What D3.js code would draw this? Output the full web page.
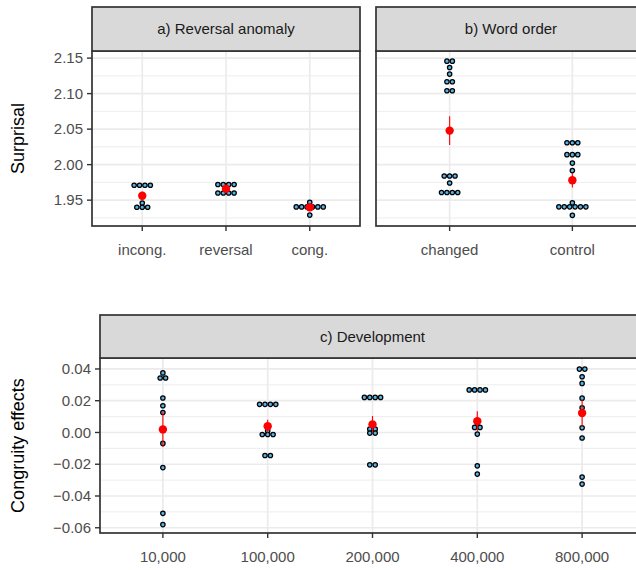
<!DOCTYPE html>
<html>
<head>
<meta charset="utf-8">
<script src="https://cdn.jsdelivr.net/npm/d3@7"></script>
<style>
  body { margin: 0; background: #fff; }
  svg { font-family: "Liberation Sans", Arial, Helvetica, sans-serif; display: block; }
</style>
</head>
<body>
<svg id="chart"></svg>
<script>
// categories
const catsA = ["incong.", "reversal", "cong."];
const catsB = ["changed", "control"];
const catsC = ["10,000", "100,000", "200,000", "400,000", "800,000"];

// surprisal values per condition
const incongVals = [1.971, 1.971, 1.971, 1.971, 1.946, 1.940, 1.940, 1.940];
const reversalVals = [1.972, 1.972, 1.972, 1.972, 1.960, 1.960, 1.960, 1.960];
const congVals = [1.947, 1.9405, 1.9405, 1.9405, 1.9405, 1.9405, 1.9405, 1.929];
const changedVals = [2.1457, 2.1457, 2.1367, 2.1275, 2.1167, 2.1167, 2.104, 2.104,
  1.984, 1.984, 1.984, 1.9742, 1.9608, 1.9608, 1.9608, 1.9608];
const controlVals = [2.0308, 2.0308, 2.0308, 2.014, 2.014, 2.014, 2.0022, 1.9916,
  1.9462, 1.9406, 1.9406, 1.9406, 1.9406, 1.9406, 1.9406, 1.9286];

// congruity effects per training size
const dev10k = [0.0375, 0.0343, 0.0343, 0.0217, 0.0168, 0.0126, -0.0069, -0.0221, -0.0509, -0.0580];
const dev100k = [0.0177, 0.0177, 0.0177, 0.0177, 0.001, -0.0013, -0.0013, -0.0013, -0.0145, -0.0145];
const dev200k = [0.0221, 0.0221, 0.0221, 0.0221, 0.0021, 0.0021, -0.0004, -0.0004, -0.0204, -0.0204];
const dev400k = [0.0268, 0.0268, 0.0268, 0.0268, 0.006, 0.0032, 0.0032, -0.001, -0.021, -0.0262];
const dev800k = [0.0399, 0.0399, 0.0351, 0.0309, 0.0216, 0.0156, 0.003, -0.0035, -0.0281, -0.0325];

// tick labels
const ticksTop = [1.95, 2.00, 2.05, 2.10, 2.15];
const minorTop = [1.925, 1.975, 2.025, 2.075, 2.125];
const ticksDev = [-0.06, -0.04, -0.02, 0.00, 0.02, 0.04];
const minorDev = [-0.05, -0.03, -0.01, 0.01, 0.03];

const width = 636, height = 570;
const svg = d3.select("#chart").attr("width", width).attr("height", height);

const dotR = 2.2, dotStep = 5.4;
const fmt2 = d3.format(".2f");

function meanSe(v) {
  const m = d3.mean(v);
  const se = d3.deviation(v) / Math.sqrt(v.length);
  return { m, lo: m - se, hi: m + se };
}

function drawPanel(opt) {
  const { x0, x1, top, bottom, stripTop, title, cats, groups, yDomain, ticks, minor, showY, yFmt } = opt;

  const x = d3.scalePoint().domain(cats).range([x0, x1]).padding(0.6);
  const y = d3.scaleLinear().domain(yDomain).range([bottom, top]);

  const g = svg.append("g");

  // grid
  g.selectAll(".minor").data(minor).enter().append("line")
      .attr("x1", x0).attr("x2", x1)
      .attr("y1", d => y(d)).attr("y2", d => y(d))
      .attr("stroke", "#ebebeb").attr("stroke-width", 0.9);
  g.selectAll(".major").data(ticks).enter().append("line")
      .attr("x1", x0).attr("x2", x1)
      .attr("y1", d => y(d)).attr("y2", d => y(d))
      .attr("stroke", "#ebebeb").attr("stroke-width", 1.7);
  g.selectAll(".vmajor").data(cats).enter().append("line")
      .attr("x1", d => x(d)).attr("x2", d => x(d))
      .attr("y1", top).attr("y2", bottom)
      .attr("stroke", "#ebebeb").attr("stroke-width", 1.7);

  // dots, stacked centred in rows of equal value
  groups.forEach((vals, i) => {
    const cx = x(cats[i]);
    const rows = d3.groups(vals, d => d);
    rows.forEach(([val, arr]) => {
      const k = arr.length;
      arr.forEach((d, j) => {
        g.append("circle")
            .attr("cx", cx + (j - (k - 1) / 2) * dotStep)
            .attr("cy", y(val))
            .attr("r", dotR)
            .attr("fill", "#56B4E9")
            .attr("stroke", "#000")
            .attr("stroke-width", 1.25);
      });
    });
  });

  // mean +- se
  groups.forEach((vals, i) => {
    const s = meanSe(vals);
    const cx = x(cats[i]);
    g.append("line")
        .attr("x1", cx).attr("x2", cx)
        .attr("y1", y(s.lo)).attr("y2", y(s.hi))
        .attr("stroke", "#ff0000").attr("stroke-width", 1.1);
    g.append("circle")
        .attr("cx", cx).attr("cy", y(s.m)).attr("r", 4.2)
        .attr("fill", "#ff0000");
  });

  // panel border
  g.append("rect")
      .attr("x", x0).attr("y", top)
      .attr("width", x1 - x0).attr("height", bottom - top)
      .attr("fill", "none").attr("stroke", "#333").attr("stroke-width", 1.7);

  // strip
  g.append("rect")
      .attr("x", x0).attr("y", stripTop)
      .attr("width", x1 - x0).attr("height", top - stripTop)
      .attr("fill", "#d9d9d9").attr("stroke", "#333").attr("stroke-width", 1.7);
  g.append("text")
      .attr("x", (x0 + x1) / 2).attr("y", (stripTop + top) / 2)
      .attr("dy", "0.35em").attr("text-anchor", "middle")
      .attr("font-size", 15).attr("fill", "#1a1a1a")
      .text(title);

  // x axis
  cats.forEach(c => {
    g.append("line")
        .attr("x1", x(c)).attr("x2", x(c))
        .attr("y1", bottom).attr("y2", bottom + 5)
        .attr("stroke", "#333").attr("stroke-width", 1.4);
    g.append("text")
        .attr("x", x(c)).attr("y", bottom + 29)
        .attr("text-anchor", "middle")
        .attr("font-size", 15).attr("fill", "#4d4d4d")
        .text(c);
  });

  // y axis
  if (showY) {
    ticks.forEach(t => {
      g.append("line")
          .attr("x1", x0 - 5).attr("x2", x0)
          .attr("y1", y(t)).attr("y2", y(t))
          .attr("stroke", "#333").attr("stroke-width", 1.4);
      g.append("text")
          .attr("x", x0 - 9).attr("y", y(t))
          .attr("dy", "0.35em").attr("text-anchor", "end")
          .attr("font-size", 15).attr("fill", "#4d4d4d")
          .text(yFmt(t));
    });
  }
  return y;
}

drawPanel({
  x0: 92, x1: 360, top: 51, bottom: 226, stripTop: 7,
  title: "a) Reversal anomaly", cats: catsA,
  groups: [incongVals, reversalVals, congVals],
  yDomain: [1.9136, 2.160], ticks: ticksTop, minor: minorTop,
  showY: true, yFmt: fmt2
});

drawPanel({
  x0: 376, x1: 646, top: 51, bottom: 226, stripTop: 7,
  title: "b) Word order", cats: catsB,
  groups: [changedVals, controlVals],
  yDomain: [1.9136, 2.160], ticks: ticksTop, minor: minorTop,
  showY: false, yFmt: fmt2
});

drawPanel({
  x0: 100, x1: 645, top: 358, bottom: 533, stripTop: 315,
  title: "c) Development", cats: catsC,
  groups: [dev10k, dev100k, dev200k, dev400k, dev800k],
  yDomain: [-0.0633, 0.0469], ticks: ticksDev, minor: minorDev,
  showY: true, yFmt: fmt2
});

// axis titles
svg.append("text")
    .attr("transform", "translate(24," + (51 + 226) / 2 + ") rotate(-90)")
    .attr("text-anchor", "middle").attr("font-size", 18).attr("fill", "#000")
    .text("Surprisal");
svg.append("text")
    .attr("transform", "translate(24," + (358 + 533) / 2 + ") rotate(-90)")
    .attr("text-anchor", "middle").attr("font-size", 18).attr("fill", "#000")
    .text("Congruity effects");
</script>
</body>
</html>
